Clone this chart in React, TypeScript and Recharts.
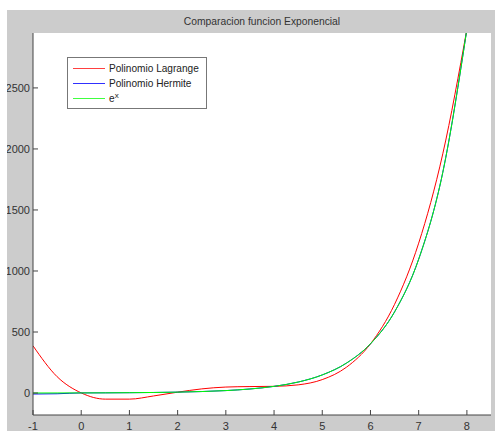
import React from 'react';
import { LineChart, Line, XAxis, YAxis } from 'recharts';

const xValues = [-1, -0.5, 0, 0.5, 1, 1.5, 2, 2.5, 3, 3.5, 4, 4.5, 5, 5.5, 6, 6.5, 7, 7.5, 8];
const lagrange = [387, 134, 1, -50, -50, -24, 7, 34, 49, 53, 55, 67, 110, 211, 403, 727, 1228, 1960, 2981];
const hermite = [-8, -6, 1, 1.6, 2.7, 4.5, 7.4, 12.2, 20.1, 33.1, 54.6, 90, 148.4, 244.7, 403.4, 665.1, 1096.6, 1808, 2981];
const expValues = [0.37, 0.61, 1, 1.65, 2.72, 4.48, 7.39, 12.18, 20.09, 33.12, 54.6, 90, 148.4, 244.7, 403.4, 665.1, 1096.6, 1808, 2981];
const xTicks = [-1, 0, 1, 2, 3, 4, 5, 6, 7, 8];
const yTicks = [0, 500, 1000, 1500, 2000, 2500];

const data = xValues.map((x, i) => ({ x, lagrange: lagrange[i], hermite: hermite[i], exp: expValues[i] }));

const font = '"Liberation Sans", Arial, sans-serif';
const tickStyle = { fontSize: 11, fill: '#333', fontFamily: font };

const legendItems = [
  { label: 'Polinomio Lagrange', color: '#ff4040' },
  { label: 'Polinomio Hermite', color: '#3030ff' },
  { label: 'e', sup: 'x', color: '#40ff40' },
];

const LegendBox = () => (
  <div
    style={{
      position: 'absolute',
      left: 60,
      top: 47,
      width: 140,
      height: 52,
      border: '1px solid #777',
      background: '#fff',
      fontFamily: font,
      fontSize: 10.1,
      color: '#222',
      boxSizing: 'border-box',
      paddingTop: 3,
      whiteSpace: 'nowrap',
    }}
  >
    {legendItems.map((item) => (
      <div key={item.label} style={{ display: 'flex', alignItems: 'center', height: 15 }}>
        <div style={{ flexShrink: 0, width: 32, height: 1, background: item.color, marginLeft: 5, marginRight: 4 }} />
        <span style={{ lineHeight: '15px' }}>
          {item.label}
          {item.sup && <sup style={{ fontSize: 8, lineHeight: 0 }}>{item.sup}</sup>}
        </span>
      </div>
    ))}
  </div>
);

export default function App() {
  return (
    <div style={{ position: 'absolute', left: 0, top: 0, width: 495, height: 431, background: '#fff' }}>
      <div style={{ position: 'absolute', left: 7, top: 10, width: 488, height: 421, background: '#cccccc' }}>
        <div
          style={{
            position: 'absolute',
            left: 26,
            width: 458,
            top: 6,
            textAlign: 'center',
            fontFamily: font,
            fontSize: 10.3,
            color: '#333',
          }}
        >
          Comparacion funcion Exponencial
        </div>
        <LineChart width={488} height={421} data={data} margin={{ top: 23, right: 4, bottom: 0, left: 0 }}>
          <rect x={26} y={23} width={458} height={382} fill="#fff" />
          <XAxis
            xAxisId="bottom"
            dataKey="x"
            type="number"
            domain={[-1, 8.5]}
            ticks={xTicks}
            allowDataOverflow
            height={16}
            stroke="#444"
            tickSize={-5}
            tickMargin={12}
            tick={tickStyle}
            interval={0}
          />
          <XAxis
            xAxisId="top"
            orientation="top"
            dataKey="x"
            type="number"
            domain={[-1, 8.5]}
            ticks={xTicks}
            allowDataOverflow
            height={0}
            stroke="#444"
            tickSize={-5}
            tick={false}
          />
          <YAxis
            yAxisId="left"
            type="number"
            domain={[-180, 2950]}
            ticks={yTicks}
            allowDataOverflow
            width={26}
            stroke="#444"
            tickSize={-5}
            tickMargin={8}
            tick={tickStyle}
            interval={0}
          />
          <YAxis
            yAxisId="right"
            orientation="right"
            type="number"
            domain={[-180, 2950]}
            ticks={yTicks}
            allowDataOverflow
            width={0}
            stroke="#444"
            tickSize={-5}
            tick={false}
          />
          <Line
            xAxisId="bottom"
            yAxisId="left"
            type="monotone"
            dataKey="lagrange"
            stroke="#ff0000"
            strokeWidth={1}
            dot={false}
            isAnimationActive={false}
          />
          <Line
            xAxisId="bottom"
            yAxisId="left"
            type="monotone"
            dataKey="hermite"
            stroke="#0000ff"
            strokeWidth={1}
            dot={false}
            isAnimationActive={false}
          />
          <Line
            xAxisId="bottom"
            yAxisId="left"
            type="monotone"
            dataKey="exp"
            stroke="#00ff00"
            strokeWidth={1}
            dot={false}
            isAnimationActive={false}
          />
        </LineChart>
        <LegendBox />
      </div>
    </div>
  );
}
